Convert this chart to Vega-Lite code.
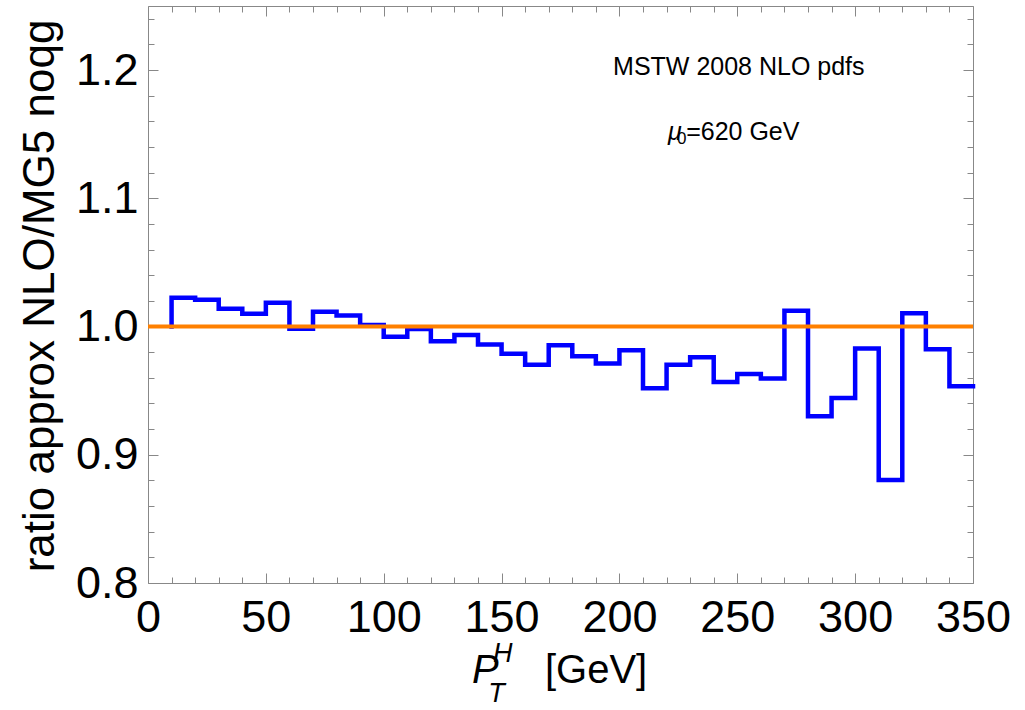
{
  "$schema": "https://vega.github.io/schema/vega-lite/v6.json",
  "width": 825,
  "height": 577,
  "autosize": {"type": "none"},
  "padding": {"left": 148, "top": 6, "right": 52, "bottom": 127},
  "background": "white",
  "config": {
    "view": {"stroke": "#888888", "strokeWidth": 1},
    "axis": {"domain": false, "grid": false, "tickColor": "#888888", "tickWidth": 1, "labelFont": "Liberation Sans", "labelColor": "black", "titleFont": "Liberation Sans", "titleColor": "black", "labelOverlap": false, "labelFlush": false},
    "text": {"font": "Liberation Sans", "color": "black"}
  },
  "datasets": {
    "hist": [
      {"i": 0, "pt": 10, "ratio": 1.0},
      {"i": 1, "pt": 10, "ratio": 1.0224},
      {"i": 2, "pt": 20, "ratio": 1.021},
      {"i": 3, "pt": 30, "ratio": 1.0138},
      {"i": 4, "pt": 40, "ratio": 1.010},
      {"i": 5, "pt": 50, "ratio": 1.0185},
      {"i": 6, "pt": 60, "ratio": 0.9982},
      {"i": 7, "pt": 70, "ratio": 1.0115},
      {"i": 8, "pt": 80, "ratio": 1.0086},
      {"i": 9, "pt": 90, "ratio": 1.0012},
      {"i": 10, "pt": 100, "ratio": 0.992},
      {"i": 11, "pt": 110, "ratio": 0.998},
      {"i": 12, "pt": 120, "ratio": 0.9885},
      {"i": 13, "pt": 130, "ratio": 0.9935},
      {"i": 14, "pt": 140, "ratio": 0.986},
      {"i": 15, "pt": 150, "ratio": 0.9787},
      {"i": 16, "pt": 160, "ratio": 0.9703},
      {"i": 17, "pt": 170, "ratio": 0.9854},
      {"i": 18, "pt": 180, "ratio": 0.9768},
      {"i": 19, "pt": 190, "ratio": 0.9711},
      {"i": 20, "pt": 200, "ratio": 0.9815},
      {"i": 21, "pt": 210, "ratio": 0.9518},
      {"i": 22, "pt": 220, "ratio": 0.9703},
      {"i": 23, "pt": 230, "ratio": 0.976},
      {"i": 24, "pt": 240, "ratio": 0.9568},
      {"i": 25, "pt": 250, "ratio": 0.963},
      {"i": 26, "pt": 260, "ratio": 0.9594},
      {"i": 27, "pt": 270, "ratio": 1.0123},
      {"i": 28, "pt": 280, "ratio": 0.930},
      {"i": 29, "pt": 290, "ratio": 0.9443},
      {"i": 30, "pt": 300, "ratio": 0.9828},
      {"i": 31, "pt": 310, "ratio": 0.8803},
      {"i": 32, "pt": 320, "ratio": 1.0104},
      {"i": 33, "pt": 330, "ratio": 0.9823},
      {"i": 34, "pt": 340, "ratio": 0.9534},
      {"i": 35, "pt": 350, "ratio": 0.9534}
    ],
    "unity": [{"pt": 0, "ratio": 1.0}, {"pt": 350, "ratio": 1.0}],
    "note1": [{"pt": 197.3, "ratio": 1.1963, "label": "MSTW 2008 NLO pdfs"}, {"pt": 228.3, "ratio": 1.1458, "label": "=620 GeV"}],
    "note0": [{"pt": 224.4, "ratio": 1.1425, "label": "0"}],
    "noteMu": [{"pt": 220.6, "ratio": 1.1458, "label": "μ"}],
    "titleP": [{"pt": 137.5, "ratio": 0.7219, "label": "P"}],
    "titleHT": [{"pt": 146.4, "ratio": 0.7383, "label": "H"}, {"pt": 144.3, "ratio": 0.7071, "label": "T"}],
    "titleGeV": [{"pt": 168.4, "ratio": 0.7219, "label": "[GeV]"}]
  },
  "layer": [
    {
      "data": {"name": "hist"},
      "mark": {"type": "line", "interpolate": "step-after", "color": "#0000FF", "strokeWidth": 4.5, "strokeJoin": "miter", "strokeCap": "square"},
      "encoding": {
        "x": {"field": "pt", "type": "quantitative", "scale": {"domain": [0, 350], "nice": false, "zero": false},
          "axis": {"orient": "bottom", "title": null, "values": [0,10,20,30,40,50,60,70,80,90,100,110,120,130,140,150,160,170,180,190,200,210,220,230,240,250,260,270,280,290,300,310,320,330,340,350],
            "labelExpr": "datum.value % 50 === 0 ? datum.label : ''",
            "tickSize": {"condition": {"test": "datum.value % 50 === 0", "value": -10}, "value": -6},
            "labelFontSize": 45, "labelPadding": 22}},
        "y": {"field": "ratio", "type": "quantitative", "scale": {"domain": [0.8, 1.25], "nice": false, "zero": false},
          "axis": {"orient": "left", "values": [0.8,0.82,0.84,0.86,0.88,0.9,0.92,0.94,0.96,0.98,1.0,1.02,1.04,1.06,1.08,1.1,1.12,1.14,1.16,1.18,1.2,1.22,1.24],
            "labelExpr": "abs(datum.value*10 - round(datum.value*10)) < 0.001 ? format(datum.value, '.1f') : ''",
            "tickSize": {"condition": {"test": "abs(datum.value*10 - round(datum.value*10)) < 0.001", "value": -10}, "value": -6},
            "labelFontSize": 45, "labelPadding": 20,
            "title": "ratio approx NLO/MG5 noqg", "titleFontSize": 44, "titleFontWeight": "normal", "titleAngle": 270, "titleBaseline": "alphabetic", "titleAlign": "center", "titleX": -95, "titleY": 289.5}},
        "order": {"field": "i", "type": "quantitative"}
      }
    },
    {
      "data": {"name": "unity"},
      "mark": {"type": "line", "color": "#FF8000", "strokeWidth": 4},
      "encoding": {
        "x": {"field": "pt", "type": "quantitative",
          "axis": {"orient": "top", "title": null, "labels": false, "values": [0,10,20,30,40,50,60,70,80,90,100,110,120,130,140,150,160,170,180,190,200,210,220,230,240,250,260,270,280,290,300,310,320,330,340,350],
            "tickSize": {"condition": {"test": "datum.value % 50 === 0", "value": -10}, "value": -6}}},
        "y": {"field": "ratio", "type": "quantitative",
          "axis": {"orient": "right", "title": null, "labels": false, "values": [0.8,0.82,0.84,0.86,0.88,0.9,0.92,0.94,0.96,0.98,1.0,1.02,1.04,1.06,1.08,1.1,1.12,1.14,1.16,1.18,1.2,1.22,1.24],
            "tickSize": {"condition": {"test": "abs(datum.value*10 - round(datum.value*10)) < 0.001", "value": -10}, "value": -6}}}
      }
    },
    {
      "data": {"name": "note1"},
      "mark": {"type": "text", "align": "left", "baseline": "alphabetic", "fontSize": 25},
      "encoding": {"x": {"field": "pt", "type": "quantitative", "axis": null}, "y": {"field": "ratio", "type": "quantitative", "axis": null}, "text": {"field": "label"}}
    },
    {
      "data": {"name": "note0"},
      "mark": {"type": "text", "align": "left", "baseline": "alphabetic", "fontSize": 17},
      "encoding": {"x": {"field": "pt", "type": "quantitative", "axis": null}, "y": {"field": "ratio", "type": "quantitative", "axis": null}, "text": {"field": "label"}}
    },
    {
      "data": {"name": "noteMu"},
      "mark": {"type": "text", "align": "left", "baseline": "alphabetic", "fontSize": 25, "fontStyle": "italic"},
      "encoding": {"x": {"field": "pt", "type": "quantitative", "axis": null}, "y": {"field": "ratio", "type": "quantitative", "axis": null}, "text": {"field": "label"}}
    },
    {
      "data": {"name": "titleP"},
      "mark": {"type": "text", "align": "left", "baseline": "alphabetic", "fontSize": 40, "fontStyle": "italic"},
      "encoding": {"x": {"field": "pt", "type": "quantitative", "axis": null}, "y": {"field": "ratio", "type": "quantitative", "axis": null}, "text": {"field": "label"}}
    },
    {
      "data": {"name": "titleHT"},
      "mark": {"type": "text", "align": "left", "baseline": "alphabetic", "fontSize": 27, "fontStyle": "italic"},
      "encoding": {"x": {"field": "pt", "type": "quantitative", "axis": null}, "y": {"field": "ratio", "type": "quantitative", "axis": null}, "text": {"field": "label"}}
    },
    {
      "data": {"name": "titleGeV"},
      "mark": {"type": "text", "align": "left", "baseline": "alphabetic", "fontSize": 40},
      "encoding": {"x": {"field": "pt", "type": "quantitative", "axis": null}, "y": {"field": "ratio", "type": "quantitative", "axis": null}, "text": {"field": "label"}}
    }
  ],
  "resolve": {"axis": {"x": "independent", "y": "independent"}}
}
